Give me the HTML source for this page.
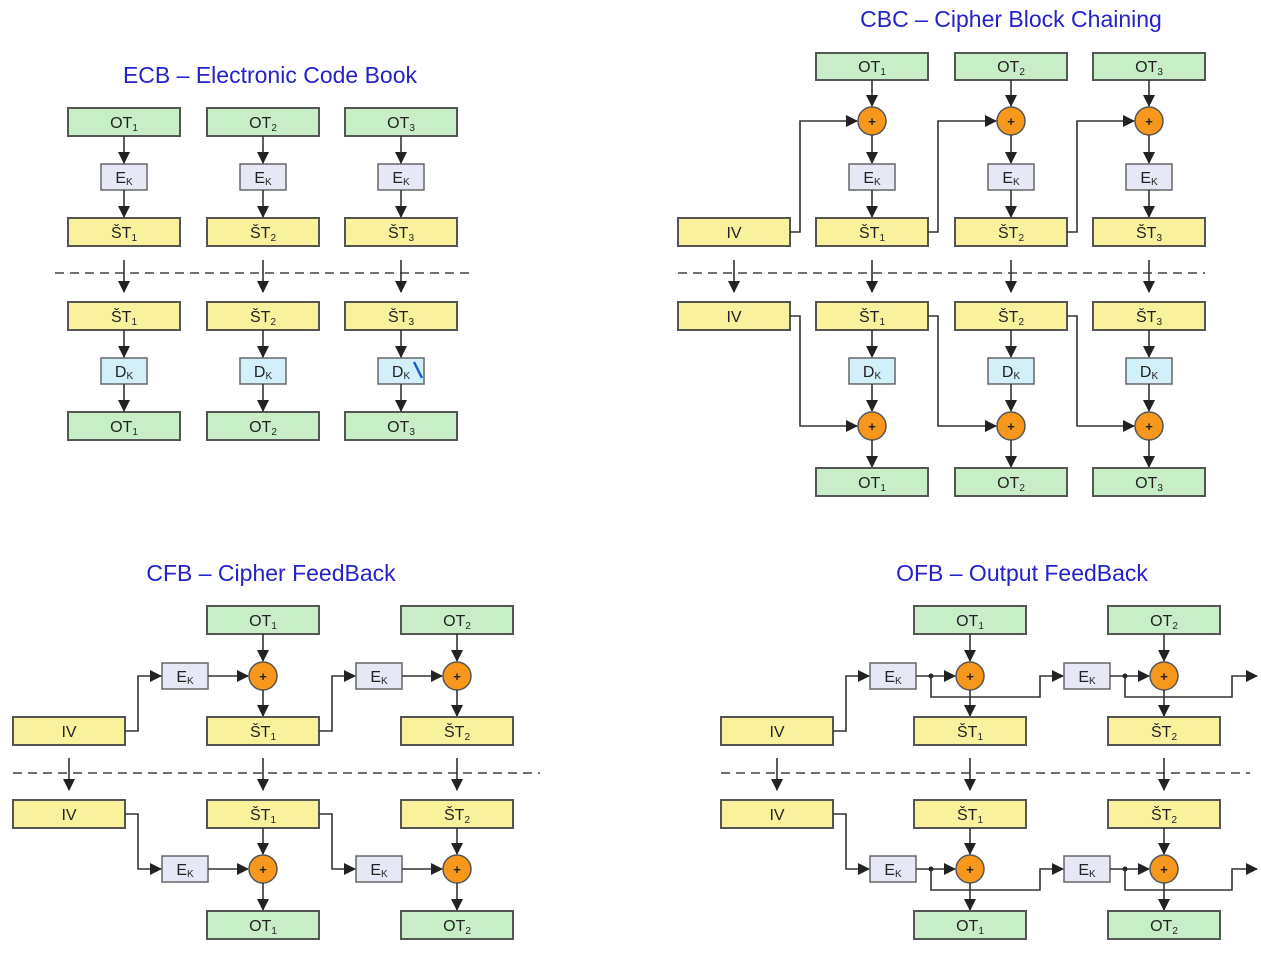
<!DOCTYPE html>
<html><head><meta charset="utf-8"><style>
html,body{margin:0;padding:0;background:#fff;}
svg{display:block;}
text{font-family:"Liberation Sans",Arial,sans-serif;}
.t{font-size:16px;fill:#222;text-anchor:middle;}
.h{font-size:23px;fill:#2323c8;text-anchor:middle;}
.g{fill:#c8eec8;stroke:#555;stroke-width:2;}
.y{fill:#f9f19c;stroke:#555;stroke-width:2;}
.e{fill:#e6e9f5;stroke:#666;stroke-width:1.5;}
.d{fill:#d2f0fa;stroke:#666;stroke-width:1.5;}
.x{fill:#f7981c;stroke:#555;stroke-width:1.5;}
.a{stroke:#333;stroke-width:1.6;fill:none;marker-end:url(#ar);}
.ds{stroke:#444;stroke-width:1.5;stroke-dasharray:9,6;fill:none;}
.p{font-size:13px;fill:#222;text-anchor:middle;font-weight:bold;}
</style></head><body>
<svg width="1261" height="957" viewBox="0 0 1261 957" xmlns="http://www.w3.org/2000/svg">
<defs><marker id="ar" markerWidth="12" markerHeight="12" refX="11" refY="6" orient="auto" markerUnits="userSpaceOnUse"><path d="M0,0 L12,6 L0,12 z" fill="#222"/></marker></defs>

<!-- ECB -->
<text class="h" x="270" y="83">ECB – Electronic Code Book</text>
<g>
<rect class="g" x="68" y="108" width="112" height="28"/><text class="t" x="124" y="128">OT<tspan font-size="10" dy="3">1</tspan></text>
<rect class="g" x="207" y="108" width="112" height="28"/><text class="t" x="263" y="128">OT<tspan font-size="10" dy="3">2</tspan></text>
<rect class="g" x="345" y="108" width="112" height="28"/><text class="t" x="401" y="128">OT<tspan font-size="10" dy="3">3</tspan></text>
<rect class="e" x="101" y="164" width="46" height="26"/><text class="t" x="124" y="183">E<tspan font-size="10" dy="2">K</tspan></text>
<rect class="e" x="240" y="164" width="46" height="26"/><text class="t" x="263" y="183">E<tspan font-size="10" dy="2">K</tspan></text>
<rect class="e" x="378" y="164" width="46" height="26"/><text class="t" x="401" y="183">E<tspan font-size="10" dy="2">K</tspan></text>
<rect class="y" x="68" y="218" width="112" height="28"/><text class="t" x="124" y="238">ŠT<tspan font-size="10" dy="3">1</tspan></text>
<rect class="y" x="207" y="218" width="112" height="28"/><text class="t" x="263" y="238">ŠT<tspan font-size="10" dy="3">2</tspan></text>
<rect class="y" x="345" y="218" width="112" height="28"/><text class="t" x="401" y="238">ŠT<tspan font-size="10" dy="3">3</tspan></text>
<line class="ds" x1="55" y1="273" x2="472" y2="273"/>
<rect class="y" x="68" y="302" width="112" height="28"/><text class="t" x="124" y="322">ŠT<tspan font-size="10" dy="3">1</tspan></text>
<rect class="y" x="207" y="302" width="112" height="28"/><text class="t" x="263" y="322">ŠT<tspan font-size="10" dy="3">2</tspan></text>
<rect class="y" x="345" y="302" width="112" height="28"/><text class="t" x="401" y="322">ŠT<tspan font-size="10" dy="3">3</tspan></text>
<rect class="d" x="101" y="358" width="46" height="26"/><text class="t" x="124" y="377">D<tspan font-size="10" dy="2">K</tspan></text>
<rect class="d" x="240" y="358" width="46" height="26"/><text class="t" x="263" y="377">D<tspan font-size="10" dy="2">K</tspan></text>
<rect class="d" x="378" y="358" width="46" height="26"/><text class="t" x="401" y="377">D<tspan font-size="10" dy="2">K</tspan></text>
<line x1="414" y1="362" x2="422" y2="378" stroke="#1a5fd0" stroke-width="2.5"/>
<rect class="g" x="68" y="412" width="112" height="28"/><text class="t" x="124" y="432">OT<tspan font-size="10" dy="3">1</tspan></text>
<rect class="g" x="207" y="412" width="112" height="28"/><text class="t" x="263" y="432">OT<tspan font-size="10" dy="3">2</tspan></text>
<rect class="g" x="345" y="412" width="112" height="28"/><text class="t" x="401" y="432">OT<tspan font-size="10" dy="3">3</tspan></text>
<path class="a" d="M124,136V163"/><path class="a" d="M263,136V163"/><path class="a" d="M401,136V163"/>
<path class="a" d="M124,190V217"/><path class="a" d="M263,190V217"/><path class="a" d="M401,190V217"/>
<path class="a" d="M124,260V292"/><path class="a" d="M263,260V292"/><path class="a" d="M401,260V292"/>
<path class="a" d="M124,330V357"/><path class="a" d="M263,330V357"/><path class="a" d="M401,330V357"/>
<path class="a" d="M124,384V411"/><path class="a" d="M263,384V411"/><path class="a" d="M401,384V411"/>
</g>

<!-- CBC -->
<text class="h" x="1011" y="27">CBC – Cipher Block Chaining</text>
<g>
<rect class="g" x="816" y="53" width="112" height="27"/><text class="t" x="872" y="72">OT<tspan font-size="10" dy="3">1</tspan></text>
<rect class="g" x="955" y="53" width="112" height="27"/><text class="t" x="1011" y="72">OT<tspan font-size="10" dy="3">2</tspan></text>
<rect class="g" x="1093" y="53" width="112" height="27"/><text class="t" x="1149" y="72">OT<tspan font-size="10" dy="3">3</tspan></text>
<path class="a" d="M872,80V106"/><path class="a" d="M1011,80V106"/><path class="a" d="M1149,80V106"/>
<circle class="x" cx="872" cy="121" r="14"/><text class="p" x="872" y="126">+</text>
<circle class="x" cx="1011" cy="121" r="14"/><text class="p" x="1011" y="126">+</text>
<circle class="x" cx="1149" cy="121" r="14"/><text class="p" x="1149" y="126">+</text>
<path class="a" d="M872,135V163"/><path class="a" d="M1011,135V163"/><path class="a" d="M1149,135V163"/>
<rect class="e" x="849" y="164" width="46" height="26"/><text class="t" x="872" y="183">E<tspan font-size="10" dy="2">K</tspan></text>
<rect class="e" x="988" y="164" width="46" height="26"/><text class="t" x="1011" y="183">E<tspan font-size="10" dy="2">K</tspan></text>
<rect class="e" x="1126" y="164" width="46" height="26"/><text class="t" x="1149" y="183">E<tspan font-size="10" dy="2">K</tspan></text>
<path class="a" d="M872,190V217"/><path class="a" d="M1011,190V217"/><path class="a" d="M1149,190V217"/>
<rect class="y" x="678" y="218" width="112" height="28"/><text class="t" x="734" y="238">IV</text>
<rect class="y" x="816" y="218" width="112" height="28"/><text class="t" x="872" y="238">ŠT<tspan font-size="10" dy="3">1</tspan></text>
<rect class="y" x="955" y="218" width="112" height="28"/><text class="t" x="1011" y="238">ŠT<tspan font-size="10" dy="3">2</tspan></text>
<rect class="y" x="1093" y="218" width="112" height="28"/><text class="t" x="1149" y="238">ŠT<tspan font-size="10" dy="3">3</tspan></text>
<path class="a" d="M790,232H800V121H857"/>
<path class="a" d="M928,232H938V121H996"/>
<path class="a" d="M1067,232H1077V121H1134"/>
<line class="ds" x1="678" y1="273" x2="1205" y2="273"/>
<path class="a" d="M734,260V292"/><path class="a" d="M872,260V292"/><path class="a" d="M1011,260V292"/><path class="a" d="M1149,260V292"/>
<rect class="y" x="678" y="302" width="112" height="28"/><text class="t" x="734" y="322">IV</text>
<rect class="y" x="816" y="302" width="112" height="28"/><text class="t" x="872" y="322">ŠT<tspan font-size="10" dy="3">1</tspan></text>
<rect class="y" x="955" y="302" width="112" height="28"/><text class="t" x="1011" y="322">ŠT<tspan font-size="10" dy="3">2</tspan></text>
<rect class="y" x="1093" y="302" width="112" height="28"/><text class="t" x="1149" y="322">ŠT<tspan font-size="10" dy="3">3</tspan></text>
<path class="a" d="M872,330V357"/><path class="a" d="M1011,330V357"/><path class="a" d="M1149,330V357"/>
<rect class="d" x="849" y="358" width="46" height="26"/><text class="t" x="872" y="377">D<tspan font-size="10" dy="2">K</tspan></text>
<rect class="d" x="988" y="358" width="46" height="26"/><text class="t" x="1011" y="377">D<tspan font-size="10" dy="2">K</tspan></text>
<rect class="d" x="1126" y="358" width="46" height="26"/><text class="t" x="1149" y="377">D<tspan font-size="10" dy="2">K</tspan></text>
<path class="a" d="M872,384V411"/><path class="a" d="M1011,384V411"/><path class="a" d="M1149,384V411"/>
<path class="a" d="M790,316H800V426H857"/>
<path class="a" d="M928,316H938V426H996"/>
<path class="a" d="M1067,316H1077V426H1134"/>
<circle class="x" cx="872" cy="426" r="14"/><text class="p" x="872" y="431">+</text>
<circle class="x" cx="1011" cy="426" r="14"/><text class="p" x="1011" y="431">+</text>
<circle class="x" cx="1149" cy="426" r="14"/><text class="p" x="1149" y="431">+</text>
<path class="a" d="M872,440V467"/><path class="a" d="M1011,440V467"/><path class="a" d="M1149,440V467"/>
<rect class="g" x="816" y="468" width="112" height="28"/><text class="t" x="872" y="488">OT<tspan font-size="10" dy="3">1</tspan></text>
<rect class="g" x="955" y="468" width="112" height="28"/><text class="t" x="1011" y="488">OT<tspan font-size="10" dy="3">2</tspan></text>
<rect class="g" x="1093" y="468" width="112" height="28"/><text class="t" x="1149" y="488">OT<tspan font-size="10" dy="3">3</tspan></text>
</g>

<!-- CFB -->
<text class="h" x="271" y="581">CFB – Cipher FeedBack</text>
<g>
<rect class="g" x="207" y="606" width="112" height="28"/><text class="t" x="263" y="626">OT<tspan font-size="10" dy="3">1</tspan></text>
<rect class="g" x="401" y="606" width="112" height="28"/><text class="t" x="457" y="626">OT<tspan font-size="10" dy="3">2</tspan></text>
<path class="a" d="M263,634V661"/><path class="a" d="M457,634V661"/>
<rect class="e" x="162" y="663" width="46" height="26"/><text class="t" x="185" y="682">E<tspan font-size="10" dy="2">K</tspan></text>
<rect class="e" x="356" y="663" width="46" height="26"/><text class="t" x="379" y="682">E<tspan font-size="10" dy="2">K</tspan></text>
<path class="a" d="M208,676H248"/><path class="a" d="M402,676H442"/>
<circle class="x" cx="263" cy="676" r="14"/><text class="p" x="263" y="681">+</text>
<circle class="x" cx="457" cy="676" r="14"/><text class="p" x="457" y="681">+</text>
<path class="a" d="M263,690V716"/><path class="a" d="M457,690V716"/>
<rect class="y" x="13" y="717" width="112" height="28"/><text class="t" x="69" y="737">IV</text>
<rect class="y" x="207" y="717" width="112" height="28"/><text class="t" x="263" y="737">ŠT<tspan font-size="10" dy="3">1</tspan></text>
<rect class="y" x="401" y="717" width="112" height="28"/><text class="t" x="457" y="737">ŠT<tspan font-size="10" dy="3">2</tspan></text>
<path class="a" d="M125,731H138V676H161"/>
<path class="a" d="M319,731H332V676H355"/>
<line class="ds" x1="13" y1="773" x2="540" y2="773"/>
<path class="a" d="M69,758V790"/><path class="a" d="M263,758V790"/><path class="a" d="M457,758V790"/>
<rect class="y" x="13" y="800" width="112" height="28"/><text class="t" x="69" y="820">IV</text>
<rect class="y" x="207" y="800" width="112" height="28"/><text class="t" x="263" y="820">ŠT<tspan font-size="10" dy="3">1</tspan></text>
<rect class="y" x="401" y="800" width="112" height="28"/><text class="t" x="457" y="820">ŠT<tspan font-size="10" dy="3">2</tspan></text>
<path class="a" d="M125,814H138V869H161"/>
<path class="a" d="M319,814H332V869H355"/>
<path class="a" d="M263,828V854"/><path class="a" d="M457,828V854"/>
<rect class="e" x="162" y="856" width="46" height="26"/><text class="t" x="185" y="875">E<tspan font-size="10" dy="2">K</tspan></text>
<rect class="e" x="356" y="856" width="46" height="26"/><text class="t" x="379" y="875">E<tspan font-size="10" dy="2">K</tspan></text>
<path class="a" d="M208,869H248"/><path class="a" d="M402,869H442"/>
<circle class="x" cx="263" cy="869" r="14"/><text class="p" x="263" y="874">+</text>
<circle class="x" cx="457" cy="869" r="14"/><text class="p" x="457" y="874">+</text>
<path class="a" d="M263,883V910"/><path class="a" d="M457,883V910"/>
<rect class="g" x="207" y="911" width="112" height="28"/><text class="t" x="263" y="931">OT<tspan font-size="10" dy="3">1</tspan></text>
<rect class="g" x="401" y="911" width="112" height="28"/><text class="t" x="457" y="931">OT<tspan font-size="10" dy="3">2</tspan></text>
</g>

<!-- OFB -->
<text class="h" x="1022" y="581">OFB – Output FeedBack</text>
<g>
<rect class="g" x="914" y="606" width="112" height="28"/><text class="t" x="970" y="626">OT<tspan font-size="10" dy="3">1</tspan></text>
<rect class="g" x="1108" y="606" width="112" height="28"/><text class="t" x="1164" y="626">OT<tspan font-size="10" dy="3">2</tspan></text>
<path class="a" d="M970,634V661"/><path class="a" d="M1164,634V661"/>
<rect class="e" x="870" y="663" width="46" height="26"/><text class="t" x="893" y="682">E<tspan font-size="10" dy="2">K</tspan></text>
<rect class="e" x="1064" y="663" width="46" height="26"/><text class="t" x="1087" y="682">E<tspan font-size="10" dy="2">K</tspan></text>
<path class="a" d="M916,676H955"/><path class="a" d="M1110,676H1149"/>
<circle cx="931" cy="676" r="2.5" fill="#222"/><circle cx="1125" cy="676" r="2.5" fill="#222"/>
<path class="a" d="M931,676V697H1040V676H1063"/>
<path class="a" d="M1125,676V697H1232V676H1257"/>
<circle class="x" cx="970" cy="676" r="14"/><text class="p" x="970" y="681">+</text>
<circle class="x" cx="1164" cy="676" r="14"/><text class="p" x="1164" y="681">+</text>
<path class="a" d="M970,690V716"/><path class="a" d="M1164,690V716"/>
<rect class="y" x="721" y="717" width="112" height="28"/><text class="t" x="777" y="737">IV</text>
<rect class="y" x="914" y="717" width="112" height="28"/><text class="t" x="970" y="737">ŠT<tspan font-size="10" dy="3">1</tspan></text>
<rect class="y" x="1108" y="717" width="112" height="28"/><text class="t" x="1164" y="737">ŠT<tspan font-size="10" dy="3">2</tspan></text>
<path class="a" d="M833,731H846V676H869"/>
<line class="ds" x1="721" y1="773" x2="1250" y2="773"/>
<path class="a" d="M777,758V790"/><path class="a" d="M970,758V790"/><path class="a" d="M1164,758V790"/>
<rect class="y" x="721" y="800" width="112" height="28"/><text class="t" x="777" y="820">IV</text>
<rect class="y" x="914" y="800" width="112" height="28"/><text class="t" x="970" y="820">ŠT<tspan font-size="10" dy="3">1</tspan></text>
<rect class="y" x="1108" y="800" width="112" height="28"/><text class="t" x="1164" y="820">ŠT<tspan font-size="10" dy="3">2</tspan></text>
<path class="a" d="M833,814H846V869H869"/>
<path class="a" d="M970,828V854"/><path class="a" d="M1164,828V854"/>
<rect class="e" x="870" y="856" width="46" height="26"/><text class="t" x="893" y="875">E<tspan font-size="10" dy="2">K</tspan></text>
<rect class="e" x="1064" y="856" width="46" height="26"/><text class="t" x="1087" y="875">E<tspan font-size="10" dy="2">K</tspan></text>
<path class="a" d="M916,869H955"/><path class="a" d="M1110,869H1149"/>
<circle cx="931" cy="869" r="2.5" fill="#222"/><circle cx="1125" cy="869" r="2.5" fill="#222"/>
<path class="a" d="M931,869V890H1040V869H1063"/>
<path class="a" d="M1125,869V890H1232V869H1257"/>
<circle class="x" cx="970" cy="869" r="14"/><text class="p" x="970" y="874">+</text>
<circle class="x" cx="1164" cy="869" r="14"/><text class="p" x="1164" y="874">+</text>
<path class="a" d="M970,883V910"/><path class="a" d="M1164,883V910"/>
<rect class="g" x="914" y="911" width="112" height="28"/><text class="t" x="970" y="931">OT<tspan font-size="10" dy="3">1</tspan></text>
<rect class="g" x="1108" y="911" width="112" height="28"/><text class="t" x="1164" y="931">OT<tspan font-size="10" dy="3">2</tspan></text>
</g>
</svg>
</body></html>
